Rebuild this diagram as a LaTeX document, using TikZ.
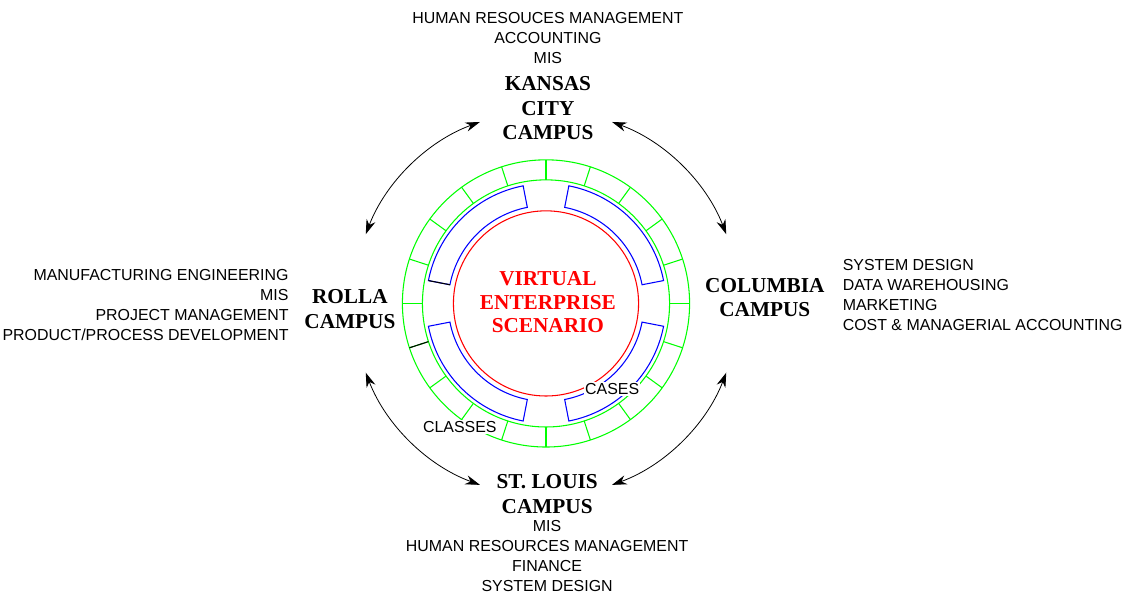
\documentclass[tikz,border=0pt]{standalone}
\usepackage{fontspec}
\setmainfont{Liberation Serif}
\setsansfont{Liberation Sans}
\usetikzlibrary{arrows.meta}
\begin{document}
\begin{tikzpicture}[link/.style={semithick,{Stealth[length=11pt,width=7pt]}-{Stealth[length=11pt,width=7pt]}},
        campus/.style={font=\fontsize{16}{18.5}\selectfont\bfseries,align=center},
        dept/.style={font=\sffamily\fontsize{12}{15}\selectfont}]
        \useasboundingbox (-14.45,-7.66) rectangle (15.27,8.03);

        % Ring
        \draw[green, line width=0.8pt] (0, 0) circle (3.80cm);
        \draw[green, line width=0.8pt] (0, 0) circle (3.27cm);
        \foreach \a in {0,18,...,342}
            \draw[green, line width=0.8pt] (\a:3.27) -- (\a:3.80);
        \draw[line width=0.8pt] (198:3.27) -- (198:3.80);

        % Segmente
        \foreach \s/\e in {11/79,101/169,191/259,281/349}
            \draw[blue, line width=0.8pt] (\s:2.59) arc (\s:\e:2.59) -- (\e:3.17) arc (\e:\s:3.17) -- cycle;
        \draw[line width=0.8pt] (169:2.59) -- (169:3.17);

        % Kern
        \draw[red, line width=0.8pt] (0, 0) circle (2.45cm);
        \node[campus, text=red, font=\fontsize{16}{17.5}\selectfont\bfseries] (core) at (0.05, 0.03) {VIRTUAL\\ENTERPRISE\\SCENARIO};
        \node[dept, fill=white, inner sep=1pt] (cases) at (1.75, -2.26) {CASES};
        \node[dept, fill=white, inner sep=1pt] (classes) at (-2.28, -3.27) {CLASSES};

        % Campus
        \node[campus] (kc) at (0.05, 5.17) {KANSAS\\CITY\\CAMPUS};
        \node[campus] (rolla) at (-5.19, -0.15) {ROLLA\\CAMPUS};
        \node[campus] (columbia) at (5.79, 0.16) {COLUMBIA\\CAMPUS};
        \node[campus] (stl) at (0.03, -5.05) {ST. LOUIS\\CAMPUS};

        % Faecher
        \node[dept, align=center] (kcdept) at (0.05, 7.02) {HUMAN RESOUCES MANAGEMENT\\ACCOUNTING\\MIS};
        \node[dept, align=right, anchor=east] (rolladept) at (-6.69, -0.05) {MANUFACTURING ENGINEERING\\MIS\\PROJECT MANAGEMENT\\PRODUCT/PROCESS DEVELOPMENT};
        \node[dept, align=left, anchor=west] (columbiadept) at (7.73, 0.22) {SYSTEM DESIGN\\DATA WAREHOUSING\\MARKETING\\COST \& MANAGERIAL ACCOUNTING};
        \node[dept, align=center] (stldept) at (0.03, -6.68) {MIS\\HUMAN RESOURCES MANAGEMENT\\FINANCE\\SYSTEM DESIGN};

        % Verbindungen
        \coordinate (nw) at (110:5.11);
        \coordinate (ne) at (21:5.11);
        \coordinate (sw) at (201:5.11);
        \coordinate (se) at (290:5.11);
        \draw[link] (nw) arc (110:159:5.11);
        \draw[link] (ne) arc (21:70:5.11);
        \draw[link] (sw) arc (201:250:5.11);
        \draw[link] (se) arc (290:339:5.11);
    \end{tikzpicture}
\end{document}
